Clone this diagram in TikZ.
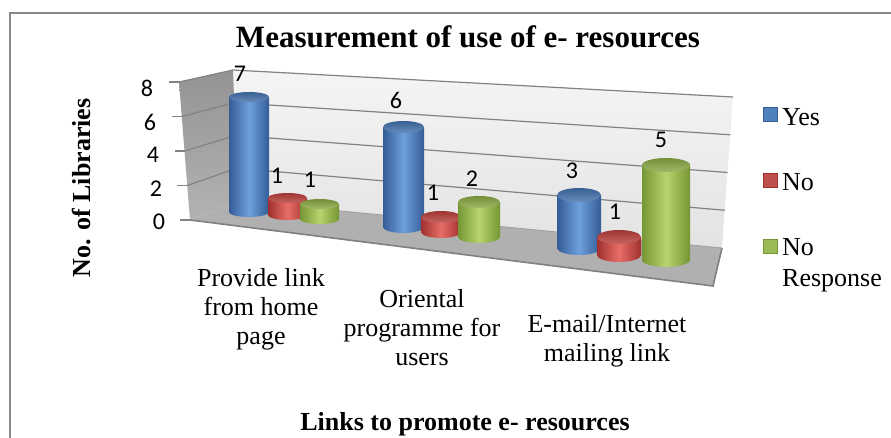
\documentclass[tikz,border=0pt]{standalone}
\usepackage{fontspec}
\setmainfont{Liberation Serif}
\newfontfamily\numfont{Carlito}
\usetikzlibrary{calc}
\definecolor{framecol}{RGB}{135,135,135}
\definecolor{gridcol}{RGB}{130,130,130}
\definecolor{blueL}{RGB}{110,160,222}
\definecolor{blueD}{RGB}{52,92,150}
\definecolor{blueT}{RGB}{66,112,172}
\definecolor{redL}{RGB}{232,110,104}
\definecolor{redD}{RGB}{160,48,46}
\definecolor{redT}{RGB}{185,62,58}
\definecolor{greenL}{RGB}{182,212,110}
\definecolor{greenD}{RGB}{118,150,52}
\definecolor{greenT}{RGB}{136,168,66}
\definecolor{blueM}{RGB}{79,129,189}
\definecolor{redM}{RGB}{192,80,77}
\definecolor{greenM}{RGB}{155,187,89}
\newcommand\mycyl[6]{%
  \shade[left color=#6D, right color=#6D, middle color=#6L] (#1-#2,#3) rectangle (#1+#2,#4);
  \shade[left color=#6D, right color=#6D, middle color=#6L] (#1,#4) ellipse[x radius=#2, y radius=#5];
  \shade[top color=#6T!85!black, bottom color=#6T!80!white] (#1,#3) ellipse[x radius=#2, y radius=#5];
}
\tikzset{
  serif/.style={font=\fontsize{26}{29}\selectfont},
  bold/.style={font=\fontsize{26}{29}\selectfont\bfseries},
  num/.style={font=\numfont\fontsize{24}{27}\selectfont, inner sep=0pt},
  gridline/.style={draw=gridcol, line width=1.2pt},
}
\begin{document}
\begin{tikzpicture}[x=1pt,y=-1pt]
\useasboundingbox (0,0) rectangle (891,437);
\fill[white] (0,0) rectangle (891,437);
\clip (0,0) rectangle (891,437);
\draw[framecol, line width=2.2pt] (10,13) rectangle (920,470);

% walls
\coordinate (bwTL) at (233,70);
\coordinate (bwTR) at (733,97);
\coordinate (bwBR) at (722,248);
\coordinate (bwBL) at (238,201);
\coordinate (swTF) at (179,82);
\coordinate (swBF) at (190,220);
\coordinate (flFR) at (713,286);
\shade[top color=black!4, bottom color=black!11] (bwTL) -- (bwTR) -- (bwBR) -- (bwBL) -- cycle;
\shade[top color=black!42, bottom color=black!30] (swTF) -- (bwTL) -- (bwBL) -- (swBF) -- cycle;
\fill[black!31] (swBF) -- (bwBL) -- (bwBR) -- (flFR) -- cycle;
\draw[black!50, line width=1.6pt] (swBF) -- (flFR) -- (bwBR);

\foreach \i in {0,1,2,3} {
  \draw[gridline] ($(swTF)!\i/4!(swBF)$) -- ($(bwTL)!\i/4!(bwBL)$) -- ($(bwTR)!\i/4!(bwBR)$);
}
\draw[black!38, line width=0.8pt] (bwBL) -- (bwBR);
\foreach \i in {0,1,2,3,4} {
  \draw[gridline] ($(swTF)!\i/4!(swBF)$) -- ++(-10,0);
}

% tick labels
\node[num] (t8) at (147,88) {8};
\node[num] (t6) at (150,122) {6};
\node[num] (t4) at (153,155) {4};
\node[num] (t2) at (156,189) {2};
\node[num] (t0) at (159,222) {0};

% bars
\mycyl{249}{20}{97}{212}{5}{blue}
\mycyl{287.5}{19.5}{198}{215}{5}{red}
\mycyl{319.5}{19.5}{204}{219}{5}{green}
\mycyl{403.5}{20.5}{127}{227}{6}{blue}
\mycyl{441}{20}{217}{232}{6}{red}
\mycyl{479}{21}{202}{237}{6}{green}
\mycyl{579}{22}{195}{248}{7}{blue}
\mycyl{619}{22}{237}{255}{7}{red}
\mycyl{666}{24}{165}{260}{7}{green}

% data labels
\node[num] (d1) at (240,74) {7};
\node[num] (d2) at (277,176) {1};
\node[num] (d3) at (310,180) {1};
\node[num] (d4) at (396,100) {6};
\node[num] (d5) at (433,193) {1};
\node[num] (d6) at (472,179) {2};
\node[num] (d7) at (572,171) {3};
\node[num] (d8) at (615,212) {1};
\node[num] (d9) at (661,140) {5};

% titles
\node[font=\fontsize{31}{34}\selectfont\bfseries, anchor=base] (title) at (468,47) {Measurement of use of e- resources};
\node[bold, anchor=base] (xtitle) at (465,430) {Links to promote e- resources};
\node[bold, anchor=base, rotate=90] (ytitle) at (90,188) {No. of Libraries};

% categories
\node[serif, align=center] (c1) at (261,309) {Provide link\\from home\\page};
\node[serif, align=center] (c2) at (422,328) {Oriental\\programme for\\users};
\node[serif, align=center] (c3) at (607,341) {E-mail/Internet\\mailing link};

% legend
\filldraw[fill=blueM, draw=blueD, line width=1pt] (763.5,107.5) rectangle (777.5,121.5);
\filldraw[fill=redM, draw=redD, line width=1pt] (763.5,173.5) rectangle (777.5,187.5);
\filldraw[fill=greenM, draw=greenD, line width=1pt] (763.5,239.5) rectangle (777.5,253.5);
\node[serif, anchor=base west, inner sep=0pt] (l1) at (782,125) {Yes};
\node[serif, anchor=base west, inner sep=0pt] (l2) at (782,190) {No};
\node[serif, anchor=base west, inner sep=0pt] (l3) at (782,255) {No};
\node[serif, anchor=base west, inner sep=0pt] (l3b) at (782,286) {Response};
\end{tikzpicture}
\end{document}
